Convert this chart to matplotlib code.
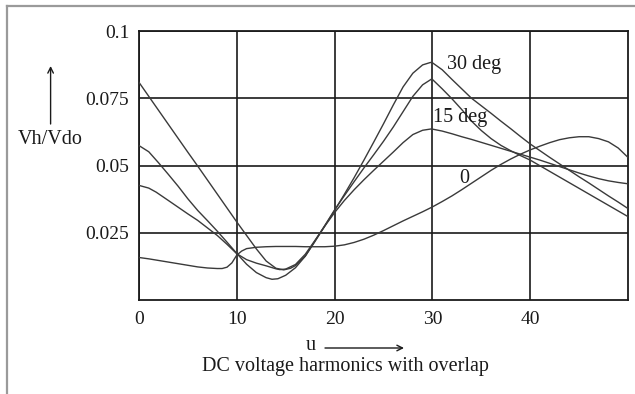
import matplotlib
matplotlib.use("Agg")
import matplotlib.pyplot as plt
from matplotlib.lines import Line2D

# ---- data ----
u_a = [0, 1, 2, 3, 4, 5, 6, 7, 8, 9, 10, 11, 12, 13, 14, 14.8, 15.5, 16, 17, 18, 19, 20,
       21, 22, 23, 24, 25, 26, 27, 28, 29, 29.8, 30, 31, 32, 33, 34, 35, 36, 37, 38, 39, 40,
       41, 42, 43, 44, 45, 46, 47, 48, 49, 50]
v_a = [0.0809, 0.0757, 0.0705, 0.0653, 0.0601, 0.0549, 0.0498, 0.0446, 0.0394, 0.0342, 0.0290,
       0.0240, 0.0190, 0.0145, 0.0118, 0.0112, 0.0118, 0.0128, 0.0163, 0.0218, 0.0275, 0.0333,
       0.0393, 0.0455, 0.0520, 0.0587, 0.0655, 0.0725, 0.0792, 0.0843, 0.0874, 0.0883, 0.0882,
       0.0856, 0.0820, 0.0785, 0.0750, 0.0722, 0.0694, 0.0665, 0.0637, 0.0608, 0.0580,
       0.0555, 0.0530, 0.0506, 0.0482, 0.0458, 0.0435, 0.0411, 0.0387, 0.0364, 0.0340]

u_b = [0, 1, 2, 3, 4, 5, 6, 7, 8, 9, 10, 11, 12, 13, 13.6, 14.2, 15, 16, 17, 18, 19, 20,
       21, 22, 23, 24, 25, 26, 27, 28, 29, 29.9, 30, 31, 32, 33, 34, 35, 36, 37, 38, 39, 40,
       41, 42, 43, 44, 45, 46, 47, 48, 49, 50]
v_b = [0.0574, 0.0551, 0.0510, 0.0467, 0.0423, 0.0376, 0.0333, 0.0295, 0.0256, 0.0215, 0.0173,
       0.0133, 0.0102, 0.0083, 0.0077, 0.0079, 0.0092, 0.0120, 0.0163, 0.0220, 0.0277, 0.0335,
       0.0388, 0.0440, 0.0491, 0.0540, 0.0590, 0.0643, 0.0700, 0.0757, 0.0800, 0.0821, 0.0820,
       0.0785, 0.0748, 0.0708, 0.0665, 0.0630, 0.0600, 0.0575, 0.0555, 0.0537, 0.0520,
       0.0499, 0.0478, 0.0457, 0.0436, 0.0415, 0.0394, 0.0373, 0.0352, 0.0331, 0.0310]

u_c = [0, 1, 1.75, 3, 4, 5, 6, 7, 8, 9, 10, 11, 12, 13, 14, 14.4, 15, 16, 17, 18, 19, 20,
       21, 22, 23, 24, 25, 26, 27, 28, 29, 29.9, 31, 32, 33, 34, 35, 36, 37, 38, 39, 40,
       41, 42, 43, 44, 45, 46, 47, 48, 49, 50]
v_c = [0.0426, 0.0416, 0.0401, 0.0370, 0.0345, 0.0320, 0.0296, 0.0268, 0.0240, 0.0207, 0.0172,
       0.0150, 0.0137, 0.0127, 0.0116, 0.0113, 0.0115, 0.0132, 0.0170, 0.0222, 0.0275, 0.0325,
       0.0370, 0.0410, 0.0447, 0.0482, 0.0516, 0.0550, 0.0585, 0.0615, 0.0631, 0.0636,
       0.0628, 0.0618, 0.0607, 0.0597, 0.0586, 0.0575, 0.0564, 0.0553, 0.0542, 0.0531,
       0.0520, 0.0508, 0.0496, 0.0484, 0.0472, 0.0461, 0.0451, 0.0443, 0.0437, 0.0432]

u_0 = [0, 1, 2, 3, 4, 5, 6, 7, 8, 8.5, 9, 9.5, 10, 10.5, 11, 12, 13, 14, 15, 16, 17, 18, 19,
       20, 21, 22, 23, 24, 25, 26, 27, 28, 29, 30, 31, 32, 33, 34, 35, 36, 37, 38, 39, 40,
       41, 42, 43, 44, 45, 46, 47, 48, 49, 50]
v_0 = [0.0158, 0.0153, 0.0147, 0.0141, 0.0135, 0.0129, 0.0123, 0.0119, 0.0117, 0.0117, 0.0122,
       0.0138, 0.0167, 0.0182, 0.0191, 0.0196, 0.0198, 0.0199, 0.0199, 0.0199, 0.0198, 0.0198,
       0.0198, 0.0200, 0.0205, 0.0214, 0.0226, 0.0241, 0.0258, 0.0276, 0.0294, 0.0311, 0.0328,
       0.0346, 0.0366, 0.0387, 0.0410, 0.0434, 0.0458, 0.0482, 0.0504, 0.0524, 0.0542, 0.0558,
       0.0572, 0.0585, 0.0596, 0.0603, 0.0607, 0.0607, 0.0600, 0.0588, 0.0565, 0.0530]

x_ticks = [0, 10, 20, 30, 40]
x_ticklabels = ["0", "10", "20", "30", "40"]
y_ticks = [0.025, 0.05, 0.075, 0.1]
y_ticklabels = ["0.025", "0.05", "0.075", "0.1"]

curve_labels = ["30 deg", "15 deg", "0"]
curve_label_pos = [(31.5, 0.0874), (30.05, 0.0678), (32.7, 0.0452)]

ylabel = "Vh/Vdo"
xlabel = "u"
title = "DC voltage harmonics with overlap"

# ---- drawing ----
plt.rcParams['font.family'] = ['Liberation Serif', 'DejaVu Serif']
W, H = 635, 394
fig = plt.figure(figsize=(W / 100, H / 100), dpi=100)
fig.patch.set_facecolor('white')

ax = fig.add_axes([139 / W, 1 - 300 / H, (628 - 139) / W, (300 - 31) / H])
curve_color = '#3a3a3a'
for uu, vv in [(u_a, v_a), (u_b, v_b), (u_c, v_c), (u_0, v_0)]:
    ax.plot(uu, vv, color=curve_color, lw=1.0, zorder=3)

ax.set_xlim(0, 50)
ax.set_ylim(0, 0.1)
ax.set_xticks(x_ticks)
ax.set_xticklabels(x_ticklabels)
ax.set_yticks(y_ticks)
ax.set_yticklabels(y_ticklabels)
ax.tick_params(length=0, labelsize=14, pad=8, colors='#1a1a1a')
ax.tick_params(axis='y', pad=7)
ax.grid(True, color='#1a1a1a', lw=1.2, zorder=1)
for s in ax.spines.values():
    s.set_color('#1a1a1a')
    s.set_linewidth(1.3)

for lab, (x, y) in zip(curve_labels, curve_label_pos):
    ax.text(x, y, lab, fontsize=14.5, ha='left', va='center', color='#1a1a1a', zorder=4)

# y-axis label with upward arrow
fig.text(50.5 / W, 1 - 140 / H, ylabel, fontsize=14.5, ha='center', va='center', color='#1a1a1a')
fig.add_artist(plt.Annotation('', xy=(50.6 / W, 1 - 66 / H), xytext=(50.6 / W, 1 - 124 / H),
                              xycoords='figure fraction', textcoords='figure fraction',
                              arrowprops=dict(arrowstyle='->', color='#1a1a1a', lw=1.0,
                                              shrinkA=0, shrinkB=0)))

# x-axis label with right arrow
fig.text(311 / W, 1 - 345 / H, xlabel, fontsize=14.5, ha='center', va='center', color='#1a1a1a')
fig.add_artist(plt.Annotation('', xy=(404 / W, 1 - 348 / H), xytext=(325 / W, 1 - 348 / H),
                              xycoords='figure fraction', textcoords='figure fraction',
                              arrowprops=dict(arrowstyle='->', color='#1a1a1a', lw=1.0,
                                              shrinkA=0, shrinkB=0)))
fig.text(345.5 / W, 1 - 367 / H, title, fontsize=14.5, ha='center', va='center', color='#1a1a1a')

# grey frame of the screenshot
fig.add_artist(Line2D([6.5 / W, 1], [1 - 6 / H, 1 - 6 / H], transform=fig.transFigure,
                      color='#9a9a9a', lw=1.6))
fig.add_artist(Line2D([6.5 / W, 6.5 / W], [0, 1 - 6 / H], transform=fig.transFigure,
                      color='#9a9a9a', lw=1.6))

fig.savefig('out.png', dpi=100, facecolor='white')
